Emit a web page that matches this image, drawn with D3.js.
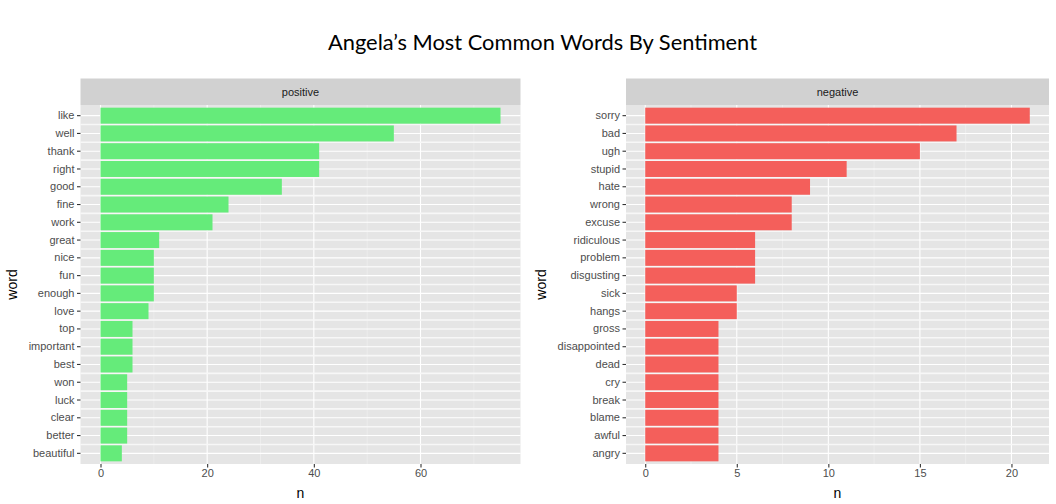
<!DOCTYPE html>
<html><head><meta charset="utf-8">
<script src="https://cdn.jsdelivr.net/npm/d3@7"></script>
<style>body{margin:0;background:#fff}svg{display:block}</style>
</head><body>
<svg id="c" width="1056" height="504"></svg>
<script>
const titleText = "Angela’s Most Common Words By Sentiment";
const posWords = ["like","well","thank","right","good","fine","work","great","nice","fun","enough","love","top","important","best","won","luck","clear","better","beautiful"];
const posValues = [75,55,41,41,34,24,21,11,10,10,10,9,6,6,6,5,5,5,5,4];
const negWords = ["sorry","bad","ugh","stupid","hate","wrong","excuse","ridiculous","problem","disgusting","sick","hangs","gross","disappointed","dead","cry","break","blame","awful","angry"];
const negValues = [21,17,15,11,9,8,8,6,6,6,5,5,4,4,4,4,4,4,4,4];
const posTicks = [0,20,40,60];
const posMinor = [10,30,50,70];
const negTicks = [0,5,10,15,20];
const negMinor = [2.5,7.5,12.5,17.5];

const svg = d3.select("#c");
const font = "'Liberation Sans', Arial, Helvetica, sans-serif";

const t = svg.append("text").attr("x",542.5).attr("y",50).attr("text-anchor","middle")
  .attr("font-family","Lato, 'Open Sans', sans-serif").attr("font-size",24).attr("fill","#000").text(titleText);
const tw = t.node().getComputedTextLength();
t.attr("font-size", 24*429/tw);

function panel(cfg){
  const g = svg.append("g");
  const {x0,x1,y0,y1,stripTop,words,values,ticks,minor,label,color} = cfg;
  const max = d3.max(values);
  const x = d3.scaleLinear().domain([-0.05*max, 1.05*max]).range([x0,x1]);
  const y = d3.scaleBand().domain(words).range([y0,y1]).paddingInner(0.1).paddingOuter(0.15);
  // strip
  g.append("rect").attr("x",x0).attr("y",stripTop).attr("width",x1-x0).attr("height",y0-stripTop).attr("fill","#D1D1D1");
  g.append("text").attr("x",(x0+x1)/2).attr("y",(stripTop+y0)/2+4).attr("text-anchor","middle")
    .attr("font-family",font).attr("font-size",11).attr("fill","#1A1A1A").text(label);
  // panel bg
  g.append("rect").attr("x",x0).attr("y",y0).attr("width",x1-x0).attr("height",y1-y0).attr("fill","#E5E5E5");
  // minor grid
  g.selectAll(".mn").data(minor).join("line").attr("x1",d=>x(d)).attr("x2",d=>x(d)).attr("y1",y0).attr("y2",y1)
    .attr("stroke","#F2F2F2").attr("stroke-width",0.6);
  // major grid
  g.selectAll(".mj").data(ticks).join("line").attr("x1",d=>x(d)).attr("x2",d=>x(d)).attr("y1",y0).attr("y2",y1)
    .attr("stroke","#fff").attr("stroke-width",1.1);
  g.selectAll(".hg").data(words).join("line").attr("x1",x0).attr("x2",x1)
    .attr("y1",d=>y(d)+y.bandwidth()/2).attr("y2",d=>y(d)+y.bandwidth()/2).attr("stroke","#fff").attr("stroke-width",1.1);
  // gap lines between categories
  g.selectAll(".gp").data(words.slice(1)).join("line").attr("x1",x0).attr("x2",x1)
    .attr("y1",d=>y(d)-y.step()*0.05).attr("y2",d=>y(d)-y.step()*0.05).attr("stroke","#F7F7F7").attr("stroke-width",1.6);
  // bars
  g.selectAll(".bar").data(words).join("rect")
    .attr("x",x(0)).attr("y",d=>y(d)).attr("height",y.bandwidth())
    .attr("width",(d,i)=>x(values[i])-x(0)).attr("fill",color);
  // y axis
  const ya = g.append("g").attr("transform",`translate(${x0},0)`)
    .call(d3.axisLeft(y).tickSize(3.5).tickPadding(2.5));
  ya.select(".domain").remove();
  ya.selectAll("line").attr("stroke","#333").attr("stroke-width",1.1);
  ya.selectAll("text").attr("font-family",font).attr("font-size",11).attr("fill","#4D4D4D");
  // x axis
  const xa = g.append("g").attr("transform",`translate(0,${y1})`)
    .call(d3.axisBottom(x).tickValues(ticks).tickFormat(d3.format("d")).tickSize(3.5).tickPadding(1.5));
  xa.select(".domain").remove();
  xa.selectAll("line").attr("stroke","#333").attr("stroke-width",1.1);
  xa.selectAll("text").attr("font-family",font).attr("font-size",11).attr("fill","#4D4D4D");
  // axis titles
  g.append("text").attr("x",(x0+x1)/2).attr("y",498).attr("text-anchor","middle")
    .attr("font-family",font).attr("font-size",14).attr("fill","#000").text("n");
  g.append("text").attr("transform",`translate(${cfg.wordX},${(y0+y1)/2}) rotate(-90)`).attr("text-anchor","middle")
    .attr("font-family",font).attr("font-size",14).attr("fill","#000").text("word");
}

panel({x0:80.5,x1:520.5,y0:105,y1:464,stripTop:78.5,words:posWords,values:posValues,ticks:posTicks,minor:posMinor,label:"positive",color:"#65EB7A",wordX:17});
panel({x0:626,x1:1049,y0:105,y1:464,stripTop:78.5,words:negWords,values:negValues,ticks:negTicks,minor:negMinor,label:"negative",color:"#F45F5B",wordX:546});
</script>
</body></html>
